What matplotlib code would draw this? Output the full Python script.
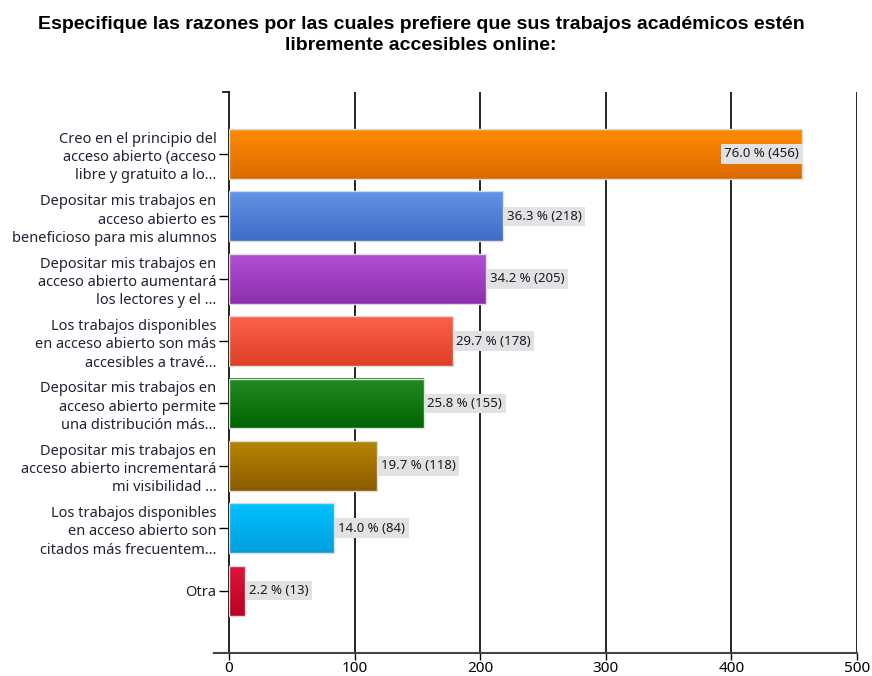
import numpy as np
import matplotlib
matplotlib.use("Agg")
import matplotlib.pyplot as plt
from matplotlib.colors import LinearSegmentedColormap

title = "Especifique las razones por las cuales prefiere que sus trabajos académicos estén\nlibremente accesibles online:"

categories = [
    "Creo en el principio del\nacceso abierto (acceso\nlibre y gratuito a lo…",
    "Depositar mis trabajos en\nacceso abierto es\nbeneficioso para mis alumnos",
    "Depositar mis trabajos en\nacceso abierto aumentará\nlos lectores y el …",
    "Los trabajos disponibles\nen acceso abierto son más\naccesibles a travé…",
    "Depositar mis trabajos en\nacceso abierto permite\nuna distribución más…",
    "Depositar mis trabajos en\nacceso abierto incrementará\nmi visibilidad …",
    "Los trabajos disponibles\nen acceso abierto son\ncitados más frecuentem…",
    "Otra",
]
counts = [456, 218, 205, 178, 155, 118, 84, 13]
percents = [76.0, 36.3, 34.2, 29.7, 25.8, 19.7, 14.0, 2.2]

# (top colour, bottom colour) for each bar gradient
bar_colors = [
    ("#ff8c00", "#dc6a00"),
    ("#6393e6", "#3f6cc6"),
    ("#b150d2", "#8d2fad"),
    ("#fb6247", "#dc4026"),
    ("#238a23", "#006400"),
    ("#b38500", "#8c5a00"),
    ("#00c2ff", "#009fdc"),
    ("#dc143c", "#bc0022"),
]
xticks = [0, 100, 200, 300, 400, 500]

fig = plt.figure(figsize=(8.72, 6.76), dpi=100)
ax = fig.add_axes([0.2626, 0.034, 0.7202, 0.8305])

n = len(categories)
ypos = np.arange(1, n + 1)
h = 0.8

for x in xticks[1:]:
    ax.axvline(x, color="black", lw=1.2, zorder=1)

grad = np.linspace(0, 1, 64).reshape(-1, 1)
for y, v, (c1, c2) in zip(ypos, counts, bar_colors):
    cmap = LinearSegmentedColormap.from_list("g", [c1, c2])
    ax.imshow(grad, cmap=cmap, aspect="auto", extent=(0, v, y + h / 2, y - h / 2),
              zorder=2, interpolation="bilinear")
ax.barh(ypos, counts, height=h, facecolor="none", edgecolor="#dcdcdc", lw=1, zorder=3)
ax.set_xlim(0, 500)
ax.set_ylim(n + 1, 0)

for y, v, p in zip(ypos, counts, percents):
    txt = f"{p:.1f} % ({v})"
    if v > 400:
        x0, ha = v - 2, "right"
    else:
        x0, ha = v + 3, "left"
    ax.text(x0, y, txt, ha=ha, va="center", fontsize=9.5, family="Noto Sans",
            color="#1a1a2a", zorder=4,
            bbox=dict(boxstyle="square,pad=0.25", fc="#e2e2e2", ec="none"))

ax.set_yticks(ypos)
ax.set_yticklabels(categories, fontsize=10.5, family="Noto Sans", color="#222233",
                   linespacing=1.3)
ax.set_xticks(xticks)
ax.set_xticklabels([str(t) for t in xticks], fontsize=11, family="Noto Sans")
ax.tick_params(axis="y", length=7, width=1, pad=2)
ax.tick_params(axis="x", length=5, width=1, pad=1)

for s in ["top", "right"]:
    ax.spines[s].set_visible(False)
ax.spines["left"].set_linewidth(1.2)
ax.spines["bottom"].set_linewidth(1.5)
ax.spines["bottom"].set_color("#444444")
ax.plot([-12, 0], [n + 1, n + 1], color="#444444", lw=1.5, clip_on=False)
ax.plot([-5, 0], [0, 0], color="black", lw=1.2, clip_on=False)

fig.text(0.483, 0.977, title, ha="center", va="top", fontsize=14, fontweight="bold",
         family="Liberation Sans", linespacing=1.35)

fig.savefig("out.png", dpi=100)
